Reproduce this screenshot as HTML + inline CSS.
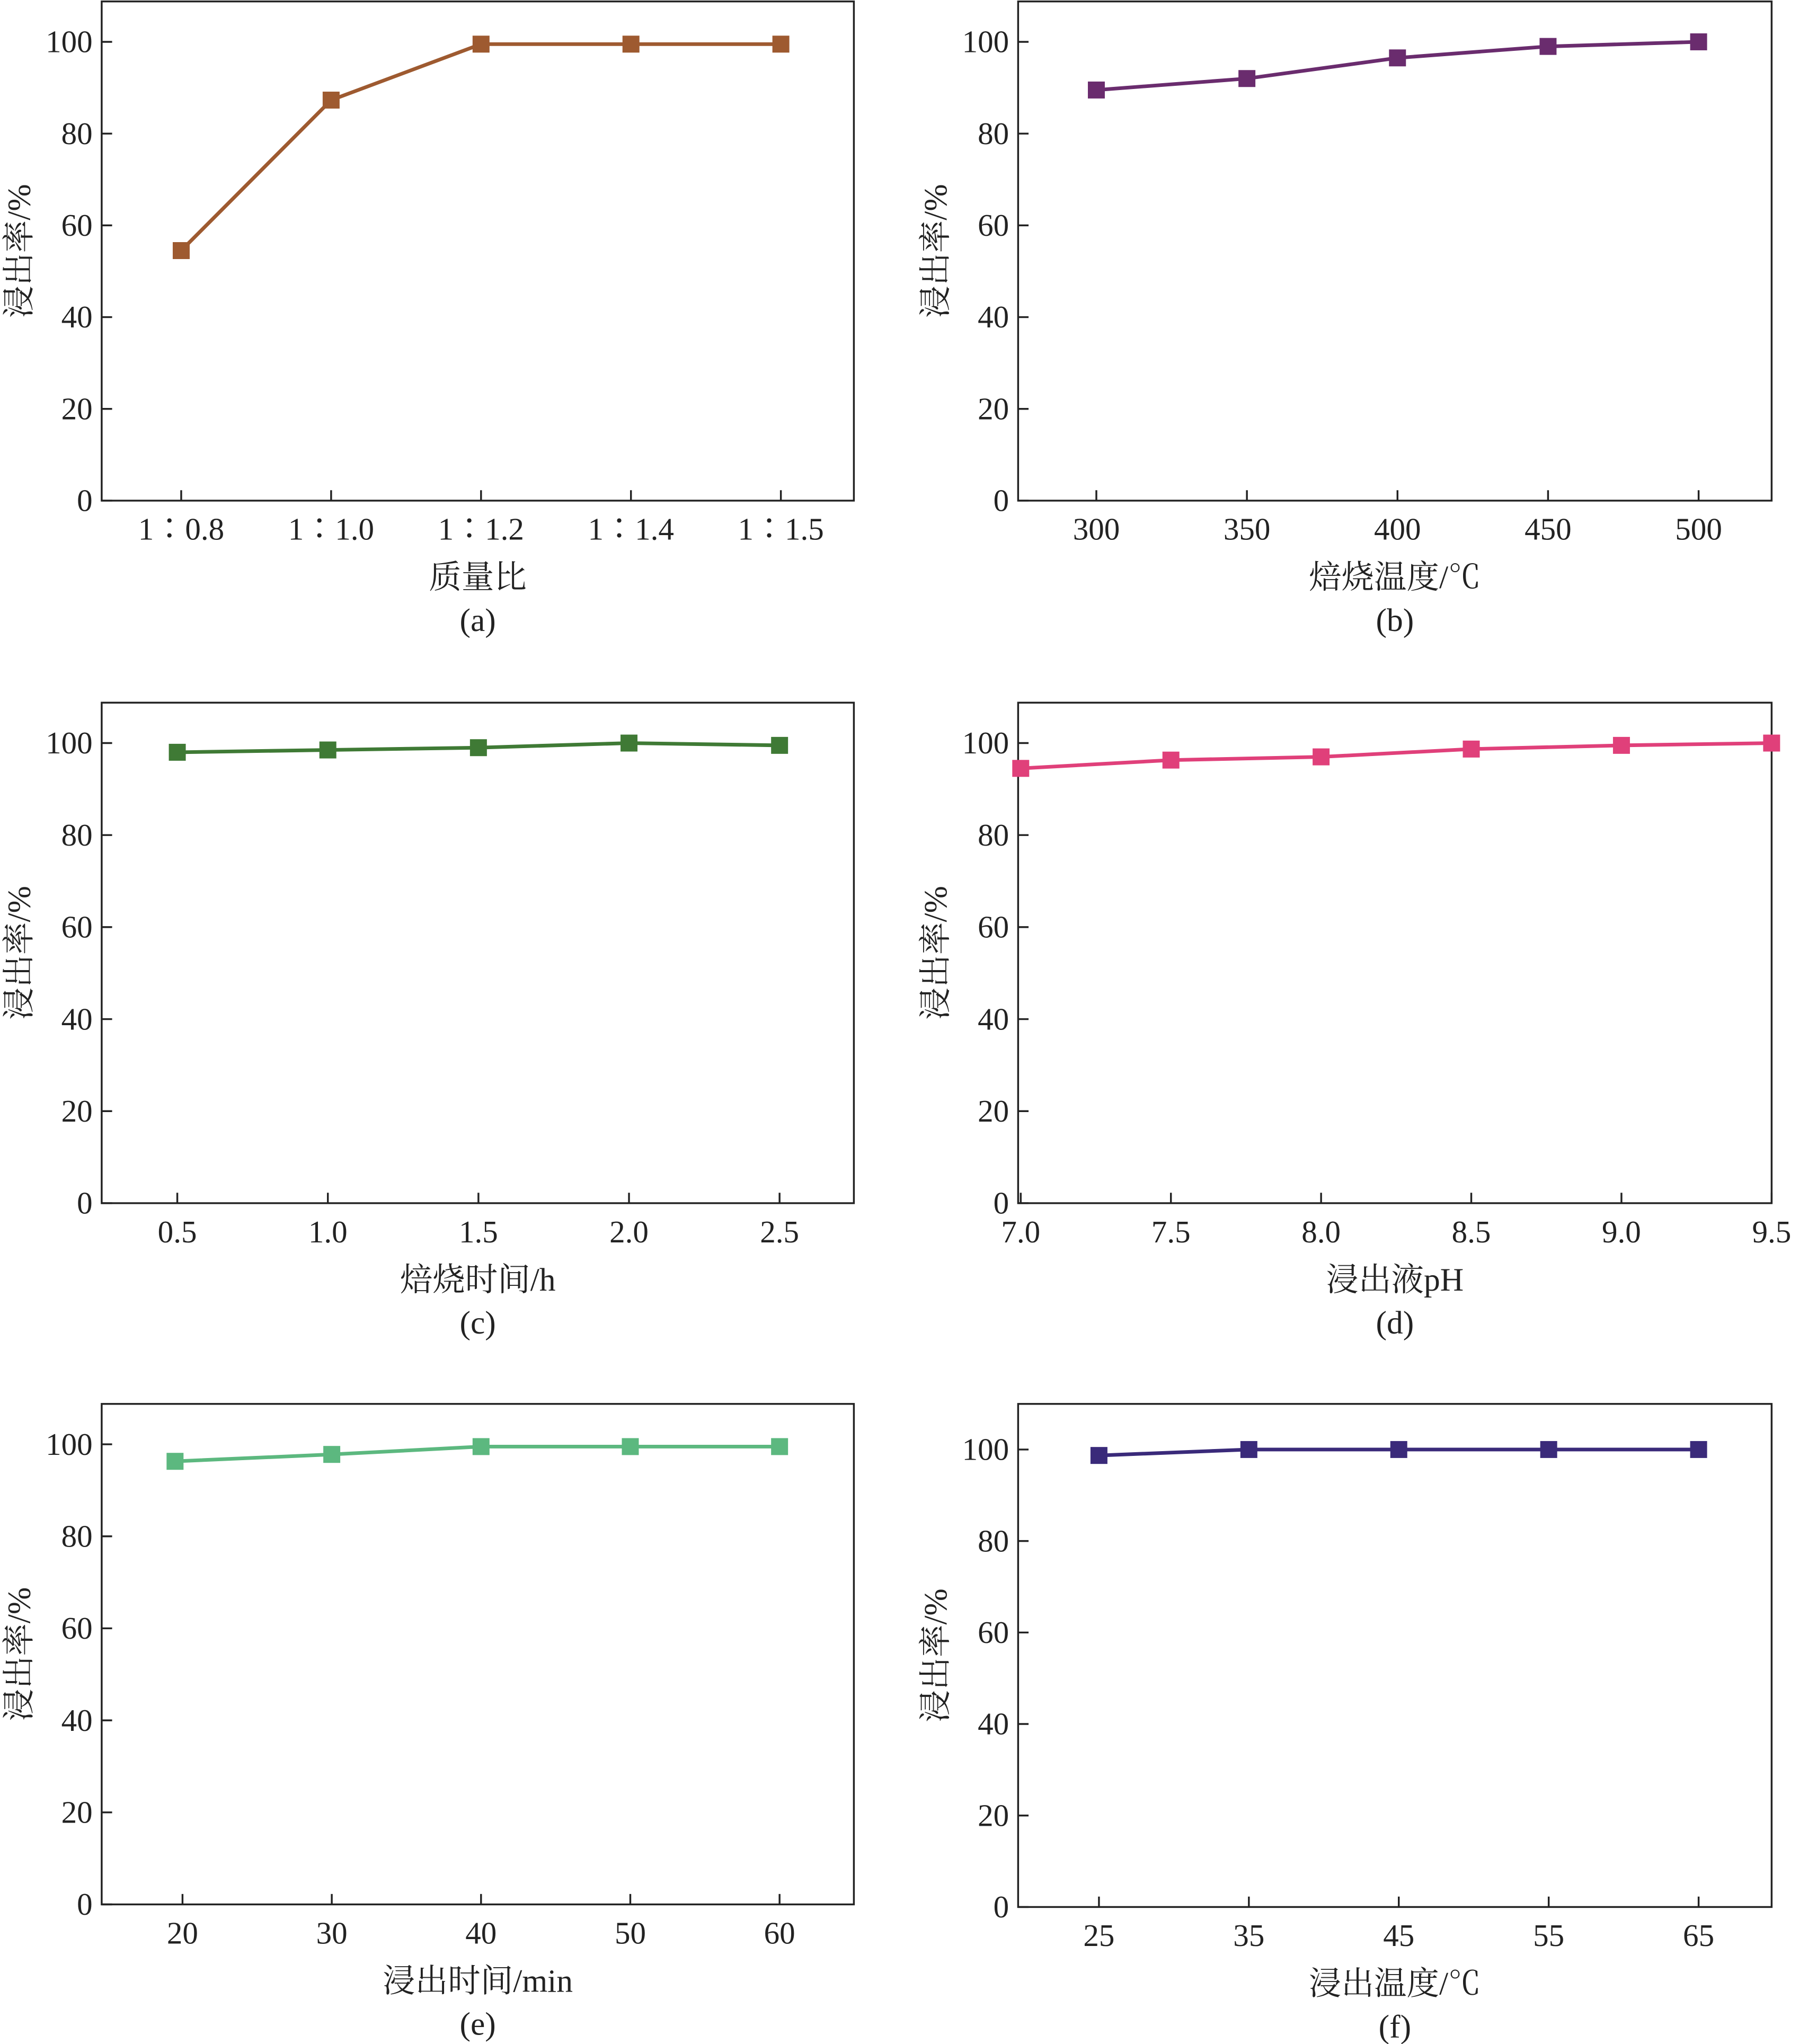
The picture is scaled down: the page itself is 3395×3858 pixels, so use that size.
<!DOCTYPE html>
<html><head><meta charset="utf-8"><style>
html,body{margin:0;padding:0;background:#fff;}
svg{display:block;}
text{font-family:"Liberation Serif","Times New Roman","Noto Serif CJK SC",serif;fill:#222;}
</style></head><body>
<svg id="fig" xmlns="http://www.w3.org/2000/svg" width="3395" height="3858" viewBox="0 0 1380 1568"></svg>
<script>
const catsA = ["1∶0.8","1∶1.0","1∶1.2","1∶1.4","1∶1.5"];
const valsA = [54.5, 87.3, 99.5, 99.5, 99.5];
const xB = [300, 350, 400, 450, 500];
const valsB = [89.5, 92, 96.5, 99, 100];
const xC = [0.5, 1.0, 1.5, 2.0, 2.5];
const valsC = [98, 98.5, 99, 100, 99.5];
const xD = [7.0, 7.5, 8.0, 8.5, 9.0, 9.5];
const valsD = [94.5, 96.3, 97, 98.7, 99.5, 100];
const xE = [19.5, 30, 40, 50, 60];
const valsE = [96.3, 97.8, 99.5, 99.5, 99.5];
const xF = [25, 35, 45, 55, 65];
const valsF = [98.7, 100, 100, 100, 100];
const yTicks = [0, 20, 40, 60, 80, 100];
const ticksB = ["300","350","400","450","500"];
const ticksC = ["0.5","1.0","1.5","2.0","2.5"];
const ticksD = ["7.0","7.5","8.0","8.5","9.0","9.5"];
const ticksE = ["20","30","40","50","60"];
const ticksF = ["25","35","45","55","65"];

const NS = "http://www.w3.org/2000/svg";
const svg = document.getElementById('fig');
const FONT = '"Liberation Serif","Times New Roman","Noto Serif CJK SC",serif';
function el(tag, attrs, parent, txt){
  const e = document.createElementNS(NS, tag);
  for (const k in attrs) e.setAttribute(k, attrs[k]);
  if (tag === 'text') e.setAttribute('font-family', FONT);
  if (txt !== undefined) e.textContent = txt;
  (parent || svg).appendChild(e);
  return e;
}
function panel(o){
  const g = el('g', {});
  
  
  const L=o.L,R=o.R,T=o.T,B=o.B,y0=o.y0,y100=o.y100;
  const sy = v => y0 - (y0 - y100) * v / 100;
  const sx = v => o.xa + (v - o.x0) * (o.xb - o.xa) / (o.x1 - o.x0);
  const frame = el('rect', {x:L, y:T, width:R-L, height:B-T, fill:'none', stroke:'#222', 'stroke-width':1.4}, g);
  
  
  yTicks.forEach(t => {
    const y = sy(t);
    el('line', {x1:L, x2:L+8, y1:y, y2:y, stroke:'#222', 'stroke-width':1.4}, g);
    const tx = el('text', {x:L-7, y:y+8, 'font-size':24, 'text-anchor':'end'}, g, String(t));
    
    
  });
  o.xt.forEach((xv, i) => {
    const x = sx(xv);
    el('line', {x1:x, x2:x, y1:B, y2:B-8, stroke:'#222', 'stroke-width':1.4}, g);
    const tx = el('text', {x:x, y:B+30, 'font-size':24, 'text-anchor':'middle'}, g, o.labels[i]);
    
    
  });
  const pts = o.vals.map((v, i) => [sx(o.xs[i]), sy(v)]);
  const line = el('polyline', {points: pts.map(p => p.join(',')).join(' '), fill:'none', stroke:o.color, 'stroke-width':2.8}, g);
  
  
  pts.forEach(p => {
    const m = el('rect', {x:p[0]-6.5, y:p[1]-6.5, width:13, height:13, fill:o.color}, g);
    
    
  });
  const cy = (T + B) / 2;
  const yl = el('text', {x:0, y:0, 'font-size':25, 'text-anchor':'middle', transform:`translate(${L-55},${cy}) rotate(-90)`}, g, '浸出率/%');
  
  
  const cx = (L + R) / 2;
  const xl = el('text', {x:cx, y:B+67, 'font-size':25, 'text-anchor':'middle'}, g, o.xtitle);
  
  
  const cap = el('text', {x:cx, y:B+100, 'font-size':25, 'text-anchor':'middle'}, g, '(' + o.id + ')');
  
  
}
const idx = [0,1,2,3,4];
panel({id:'a', L:78, R:655, T:1, B:384, y0:384, y100:32, xs:idx, xt:idx, x0:0, x1:4, xa:139, xb:599, labels:catsA, vals:valsA, color:'#9e5a30', xtitle:'质量比'});
panel({id:'b', L:781, R:1359, T:1, B:384, y0:384, y100:32, xs:xB, xt:xB, x0:300, x1:500, xa:841, xb:1303, labels:ticksB, vals:valsB, color:'#6a2c6e', xtitle:'焙烧温度/℃'});
panel({id:'c', L:78, R:655, T:539, B:923, y0:923, y100:570, xs:xC, xt:xC, x0:0.5, x1:2.5, xa:136, xb:598, labels:ticksC, vals:valsC, color:'#3f7a35', xtitle:'焙烧时间/h'});
panel({id:'d', L:781, R:1359, T:539, B:923, y0:923, y100:570, xs:xD, xt:xD, x0:7.0, x1:9.5, xa:783, xb:1359, labels:ticksD, vals:valsD, color:'#e0407a', xtitle:'浸出液pH'});
panel({id:'e', L:78, R:655, T:1077, B:1461, y0:1461, y100:1108, xs:xE, xt:[20,30,40,50,60], x0:20, x1:60, xa:140, xb:598, labels:ticksE, vals:valsE, color:'#5cb87f', xtitle:'浸出时间/min'});
panel({id:'f', L:781, R:1359, T:1077, B:1463, y0:1463, y100:1112, xs:xF, xt:xF, x0:25, x1:65, xa:843, xb:1303, labels:ticksF, vals:valsF, color:'#3a2a7a', xtitle:'浸出温度/℃'});
</script>
</body></html>
